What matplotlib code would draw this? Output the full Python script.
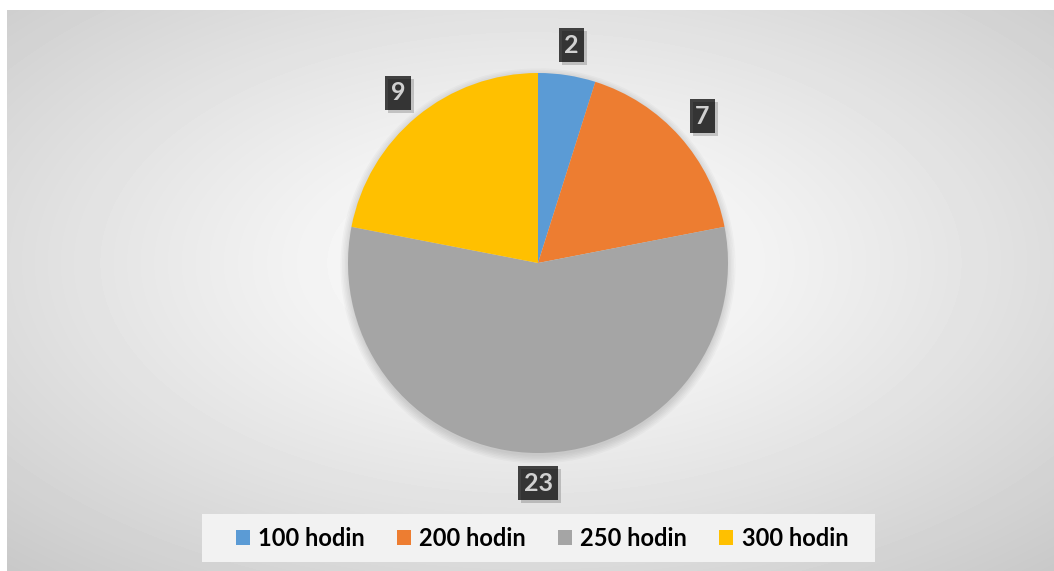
import numpy as np
import matplotlib
matplotlib.use("Agg")
import matplotlib.pyplot as plt
from matplotlib.patches import Circle, Rectangle

# data
categories = ["100 hodin", "200 hodin", "250 hodin", "300 hodin"]
values = [2, 7, 23, 9]
colors = ["#5b9bd5", "#ed7d31", "#a5a5a5", "#ffc000"]

plt.rcParams['font.family'] = ['Lato', 'DejaVu Sans']

W, H = 1054, 571
fig = plt.figure(figsize=(W / 100, H / 100), dpi=100)
fig.patch.set_facecolor("white")

# radial gradient background of the chart area (starts at x=7, y=10)
bx0, by0 = 7, 10
bg = fig.add_axes([bx0 / W, 0, (W - bx0) / W, (H - by0) / H])
bg.set_axis_off()
gw, gh = W - bx0, H - by0
yy, xx = np.mgrid[0:gh, 0:gw]
d = np.sqrt(((xx - gw / 2) / (gw / 2)) ** 2 + ((yy - gh * 0.45) / (gh / 2)) ** 2)
shade = np.clip(255 - 34 * d ** 1.2, 0, 255) / 255.0
bg.imshow(shade, cmap="gray", vmin=0, vmax=1, aspect="auto", interpolation="bilinear")

# pie axes: centre (538, 263) px, radius 190 px
cx, cy, r = 538, 263, 190
half = 250
ax = fig.add_axes([(cx - half) / W, (H - cy - half) / H, 2 * half / W, 2 * half / H])

# soft shadow under the pie
for i in range(6):
    ax.add_patch(Circle((0.0, -0.015), 1.0 + 0.008 * i, color="black",
                        alpha=0.025, lw=0, zorder=0))

total = sum(values)
wedges, texts, autotexts = ax.pie(
    values, colors=colors, startangle=90, counterclock=False,
    autopct=lambda p: f"{round(p * total / 100)}", pctdistance=1.16,
    wedgeprops=dict(linewidth=0), radius=1.0,
    textprops=dict(color="white", fontsize=18, fontweight="bold"))
for w in wedges:
    w.set_zorder(2)

ax.set_axis_off()
lim = half / r
ax.set_xlim(-lim, lim)
ax.set_ylim(-lim, lim)
ax.set_aspect("equal")

for t in autotexts:
    t.set_bbox(dict(boxstyle="square,pad=0.22", fc="#404040", ec="none"))
    t.set_zorder(5)

# drop shadows behind the label boxes
fig.canvas.draw()
renderer = fig.canvas.get_renderer()
for t in autotexts:
    bb = t.get_bbox_patch().get_window_extent(renderer)
    fig.patches.append(Rectangle(((bb.x0 + 3) / W, (bb.y0 - 3) / H), bb.width / W, bb.height / H,
                                 transform=fig.transFigure, fc="black", ec="none",
                                 alpha=0.18, zorder=1))

# legend panel
fig.patches.append(Rectangle((202 / W, (H - 562) / H), 673 / W, 48 / H,
                             transform=fig.transFigure, fc="#f2f2f2", ec="none",
                             zorder=1))
leg = fig.legend(wedges, categories, loc="center", ncol=4,
                 bbox_to_anchor=(542 / W, (H - 538) / H),
                 frameon=False, prop=dict(size=17, weight="bold"),
                 handlelength=0.6, handleheight=0.6, handletextpad=0.35,
                 columnspacing=1.35, borderpad=0.3)
leg.set_zorder(3)

fig.savefig("out.png", dpi=100)
